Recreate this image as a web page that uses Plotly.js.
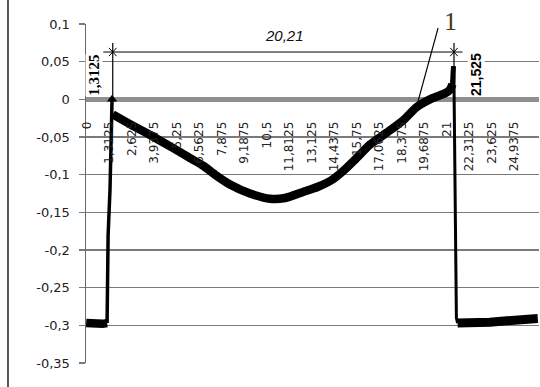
<!DOCTYPE html>
<html>
<head>
<meta charset="utf-8">
<script src="https://cdn.plot.ly/plotly-3.0.1.min.js"></script>
<style>
  html, body { margin: 0; padding: 0; background: #fff; }
  #chart { width: 540px; height: 387px; }
</style>
</head>
<body>
<div id="chart"></div>
<script>
// Category tick positions and labels (x axis)
const tickVals = [0, 1.3125, 2.625, 3.9375, 5.25, 6.5625, 7.875, 9.1875, 10.5, 11.8125,
                  13.125, 14.4375, 15.75, 17.0625, 18.375, 19.6875, 21, 22.3125, 23.625, 24.9375];
const tickLabels = ['0', '1,3125', '2,625', '3,9375', '5,25', '6,5625', '7,875', '9,1875', '10,5', '11,8125',
                    '13,125', '14,4375', '15,75', '17,0625', '18,375', '19,6875', '21', '22,3125', '23,625', '24,9375'];

// Signal segments
const leftFlatX = [-0.05, 0.3, 0.6, 0.9, 1.17];
const leftFlatY = [-0.297, -0.298, -0.297, -0.298, -0.297];

const riseX = [1.17, 1.2, 1.23, 1.34, 1.4, 1.46];
const riseY = [-0.297, -0.24, -0.18, -0.12, -0.05, 0.0];

const curveX = [1.5, 2.51, 3.5, 4.43, 5.43, 6.01, 6.77, 7.47, 8.34, 9.51, 10.68, 11.55, 12.6,
                13.48, 14.35, 15.05, 15.64, 16.51, 17.5, 18.44, 19.25, 20.19, 20.89, 21.18, 21.32];
const curveY = [-0.02, -0.033, -0.045, -0.057, -0.07, -0.078, -0.088, -0.1, -0.113, -0.125, -0.132, -0.131, -0.123,
                -0.116, -0.106, -0.093, -0.08, -0.06, -0.044, -0.028, -0.01, 0.002, 0.008, 0.013, 0.02];

const spikeX = [21.32, 21.36, 21.38];
const spikeY = [0.02, 0.044, 0.044];

const dropX = [21.4, 21.42, 21.45, 21.5, 21.55, 21.62];
const dropY = [0.044, 0.0, -0.16, -0.24, -0.29, -0.297];

const rightFlatX = [21.62, 22.5, 23.5, 24.5, 25.5, 26.3];
const rightFlatY = [-0.297, -0.297, -0.296, -0.294, -0.292, -0.291];

// Marker at the top of the leading edge
const edgeX = [1.46];
const edgeY = [0.0];

// Dimension annotation values
const dimStart = 1.5, dimEnd = 21.41, dimLevel = 0.0628, extTop = 0.0747;
const dimLabel = '20,21', startLabel = '1,3125', endLabel = '21,525', markLabel = '1';

const blk = '#000000';
const traces = [
  {x: leftFlatX, y: leftFlatY, mode: 'lines', line: {color: blk, width: 8.5}},
  {x: riseX, y: riseY, mode: 'lines', line: {color: blk, width: 3.5}},
  {x: curveX, y: curveY, mode: 'lines', line: {color: blk, width: 8.5, shape: 'spline', smoothing: 0.6}},
  {x: spikeX, y: spikeY, mode: 'lines', line: {color: blk, width: 5}},
  {x: dropX, y: dropY, mode: 'lines', line: {color: blk, width: 3}},
  {x: rightFlatX, y: rightFlatY, mode: 'lines', line: {color: blk, width: 9}},
  {x: edgeX, y: edgeY, mode: 'markers', marker: {symbol: 'triangle-up', size: 9, color: blk}}
];

const dxTick = 0.22, dyTick = 0.0055;
const shapes = [
  // chart frame (left edge)
  {type: 'line', xref: 'paper', yref: 'paper', x0: -0.1722, x1: -0.1722, y0: -0.08, y1: 1.08,
   line: {color: '#222', width: 1.5}},
  // dimension line
  {type: 'line', xref: 'x', yref: 'y', x0: dimStart - 0.55, x1: dimEnd + 0.5, y0: dimLevel, y1: dimLevel,
   line: {color: blk, width: 1}},
  // extension lines
  {type: 'line', xref: 'x', yref: 'y', x0: dimStart, x1: dimStart, y0: extTop, y1: 0,
   line: {color: blk, width: 1.2}},
  {type: 'line', xref: 'x', yref: 'y', x0: dimEnd, x1: dimEnd, y0: extTop, y1: 0.044,
   line: {color: blk, width: 1.2}},
  // tick crosses
  {type: 'line', xref: 'x', yref: 'y', x0: dimStart - dxTick, x1: dimStart + dxTick, y0: dimLevel - dyTick, y1: dimLevel + dyTick,
   line: {color: blk, width: 1}},
  {type: 'line', xref: 'x', yref: 'y', x0: dimStart - dxTick, x1: dimStart + dxTick, y0: dimLevel + dyTick, y1: dimLevel - dyTick,
   line: {color: blk, width: 1}},
  {type: 'line', xref: 'x', yref: 'y', x0: dimEnd - dxTick, x1: dimEnd + dxTick, y0: dimLevel - dyTick, y1: dimLevel + dyTick,
   line: {color: blk, width: 1}},
  {type: 'line', xref: 'x', yref: 'y', x0: dimEnd - dxTick, x1: dimEnd + dxTick, y0: dimLevel + dyTick, y1: dimLevel - dyTick,
   line: {color: blk, width: 1}},
  // leader line for label "1"
  {type: 'line', xref: 'x', yref: 'y', x0: 20.48, x1: 19.14, y0: 0.0946, y1: -0.0169,
   line: {color: blk, width: 1.2}}
];

const annotations = [
  {x: 11.55, y: 0.0854, xref: 'x', yref: 'y', text: dimLabel, showarrow: false,
   font: {family: 'Liberation Sans, Arial, sans-serif', size: 15, color: '#111', style: 'italic'},
   xanchor: 'center', yanchor: 'middle'},
  {x: 0.4, y: 0.0325, xref: 'x', yref: 'y', text: '<b>' + startLabel + '</b>', showarrow: false,
   font: {family: 'Liberation Serif, Times New Roman, serif', size: 15, color: '#000'},
   textangle: -90, bgcolor: '#ffffff', borderpad: 0, xanchor: 'center', yanchor: 'middle'},
  {x: 22.7, y: 0.0325, xref: 'x', yref: 'y', text: '<b>' + endLabel + '</b>', showarrow: false,
   font: {family: 'Liberation Sans, Arial, sans-serif', size: 14, color: '#000'},
   textangle: -90, bgcolor: '#ffffff', borderpad: 0, xanchor: 'center', yanchor: 'middle'},
  {x: 21.23, y: 1.006, xref: 'x', yref: 'paper', text: markLabel, showarrow: false,
   font: {family: 'Liberation Serif, Times New Roman, serif', size: 26, color: '#4a3410'},
   bgcolor: '#ffffff', borderpad: 0, xanchor: 'center', yanchor: 'middle'}
];

const layout = {
  width: 540, height: 387,
  margin: {l: 86, r: 1, t: 24, b: 24, pad: 0},
  paper_bgcolor: '#ffffff', plot_bgcolor: '#ffffff',
  showlegend: false,
  separators: ', ',
  xaxis: {
    range: [-0.06, 26.37],
    anchor: 'free', position: 0.7778,
    tickmode: 'array', tickvals: tickVals, ticktext: tickLabels,
    tickangle: -90, ticks: '', showgrid: false, zeroline: false, showline: false,
    ticklabelstandoff: 19,
    tickfont: {family: 'DejaVu Sans, sans-serif', size: 12, color: '#222'}
  },
  yaxis: {
    range: [-0.35, 0.1],
    tickvals: [-0.35, -0.3, -0.25, -0.2, -0.15, -0.1, -0.05, 0, 0.05, 0.1],
    ticktext: ['-0,35', '-0,3', '-0,25', '-0,2', '-0,15', '-0,1', '-0,05', '0', '0,05', '0,1'],
    showgrid: true, gridcolor: '#7a7a7a', gridwidth: 1.3,
    zeroline: true, zerolinecolor: '#8f8f8f', zerolinewidth: 5,
    showline: true, linecolor: '#6a6a6a', linewidth: 1.5,
    ticks: 'outside', ticklen: 6, tickcolor: '#7a7a7a', tickwidth: 1.3,
    ticklabelstandoff: 6,
    tickfont: {family: 'DejaVu Sans, sans-serif', size: 13, color: '#222'}
  },
  shapes: shapes,
  annotations: annotations
};

Plotly.newPlot('chart', traces, layout, {staticPlot: true, displayModeBar: false});
</script>
</body>
</html>
